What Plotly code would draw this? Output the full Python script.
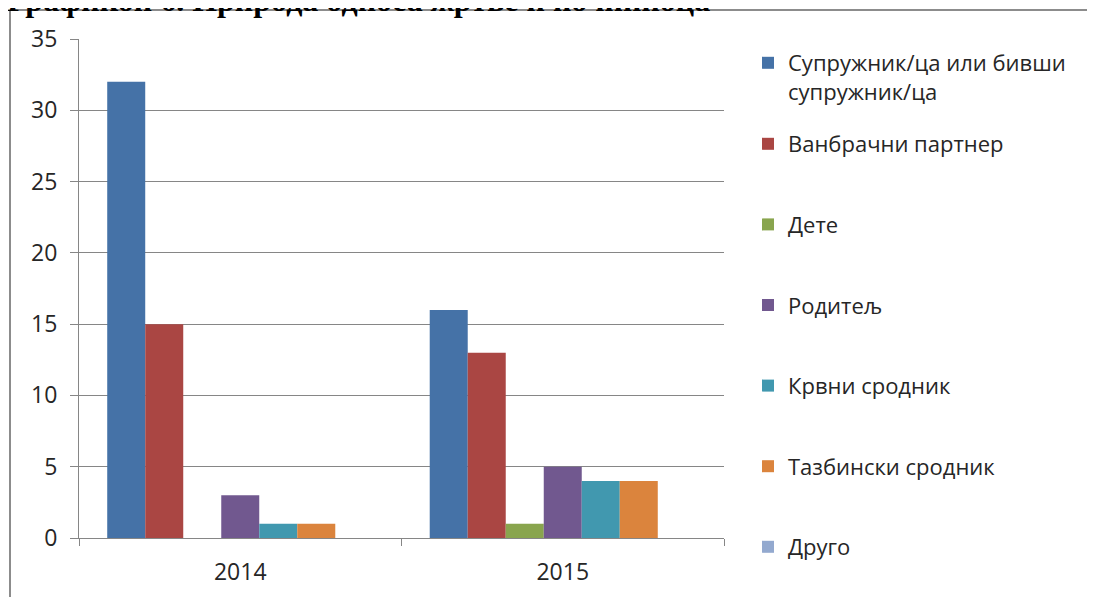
import plotly.graph_objects as go

years = ["2014", "2015"]
series_names = [
    "Супружник/ца или бивши<br>супружник/ца",
    "Ванбрачни партнер",
    "Дете",
    "Родитељ",
    "Крвни сродник",
    "Тазбински сродник",
    "Друго",
]
spouse = [32, 16]
partner = [15, 13]
child = [0, 1]
parent = [3, 5]
blood = [1, 4]
inlaw = [1, 4]
other = [0, 0]
values = [spouse, partner, child, parent, blood, inlaw, other]
colors = ["#4572A7", "#AA4643", "#89A54E", "#71588F", "#4198AF", "#DB843D", "#93A9CF"]
title_text = "Графикон 6. Природа односа жртве и починиоца"

# page offset (body margin) and plot area in screen pixels
O = 8
SW, SH = 1095, 597
W, H = SW - O, SH - O
L, R, T, B = 79 - O, 724 - O, 39 - O, 538 - O
pw, ph = R - L, B - T
def px(xs):
    return ((xs - O) - L) / pw
def py(ys):
    return (B - (ys - O)) / ph

fig = go.Figure()
for i, (name, vals, c) in enumerate(zip(series_names, values, colors)):
    fig.add_trace(go.Bar(
        x=years, y=vals, name=name,
        marker=dict(color=c, line=dict(width=0)),
        legend="legend" if i == 0 else "legend2",
        legendgroup="g%d" % i,
    ))

font_family = "Open Sans, Noto Sans, DejaVu Sans, sans-serif"
text_color = "#262626"
axis_color = "#868686"

fig.update_layout(
    width=W, height=H,
    margin=dict(l=L, r=W - R, t=T, b=H - B, pad=0, autoexpand=False),
    paper_bgcolor="white", plot_bgcolor="white",
    barmode="group", bargap=0.175, bargroupgap=0,
    font=dict(family=font_family, size=22, color=text_color),
    xaxis=dict(
        type="category", showline=True, linecolor=axis_color, linewidth=1,
        ticks="outside", tickson="boundaries", ticklen=7, tickcolor=axis_color,
        tickfont=dict(size=23, color=text_color), showgrid=False,
        ticklabelstandoff=13,
    ),
    yaxis=dict(
        range=[0, 35], dtick=5, tick0=0, showline=True, linecolor=axis_color,
        linewidth=1, ticks="outside", ticklen=8, tickcolor=axis_color,
        showgrid=True, gridcolor=axis_color, gridwidth=1, zeroline=False,
        tickfont=dict(size=23, color=text_color), ticklabelstandoff=8,
    ),
    legend=dict(
        x=px(748), y=py(42), xanchor="left", yanchor="top",
        font=dict(size=22, color=text_color), valign="top",
        bgcolor="rgba(0,0,0,0)", itemclick=False,
    ),
    legend2=dict(
        x=px(748), y=py(123), xanchor="left", yanchor="top",
        font=dict(size=22, color=text_color), traceorder="grouped",
        tracegroupgap=49, bgcolor="rgba(0,0,0,0)", itemclick=False,
    ),
    showlegend=True,
    annotations=[dict(
        text="<b>" + title_text + "</b>", xref="paper", yref="paper",
        x=px(5), y=py(20), xanchor="left", yanchor="bottom", showarrow=False,
        font=dict(family="Liberation Serif, Times New Roman, serif", size=32, color="black"),
    )],
    shapes=[
        dict(type="line", xref="paper", yref="paper", x0=px(10), x1=px(10),
             y0=py(10), y1=py(620), line=dict(color="#8c8c8c", width=2)),
        dict(type="line", xref="paper", yref="paper", x0=px(10), x1=px(1110),
             y0=py(10), y1=py(10), line=dict(color="#8c8c8c", width=2)),
    ],
)

fig.write_html("out.html")
